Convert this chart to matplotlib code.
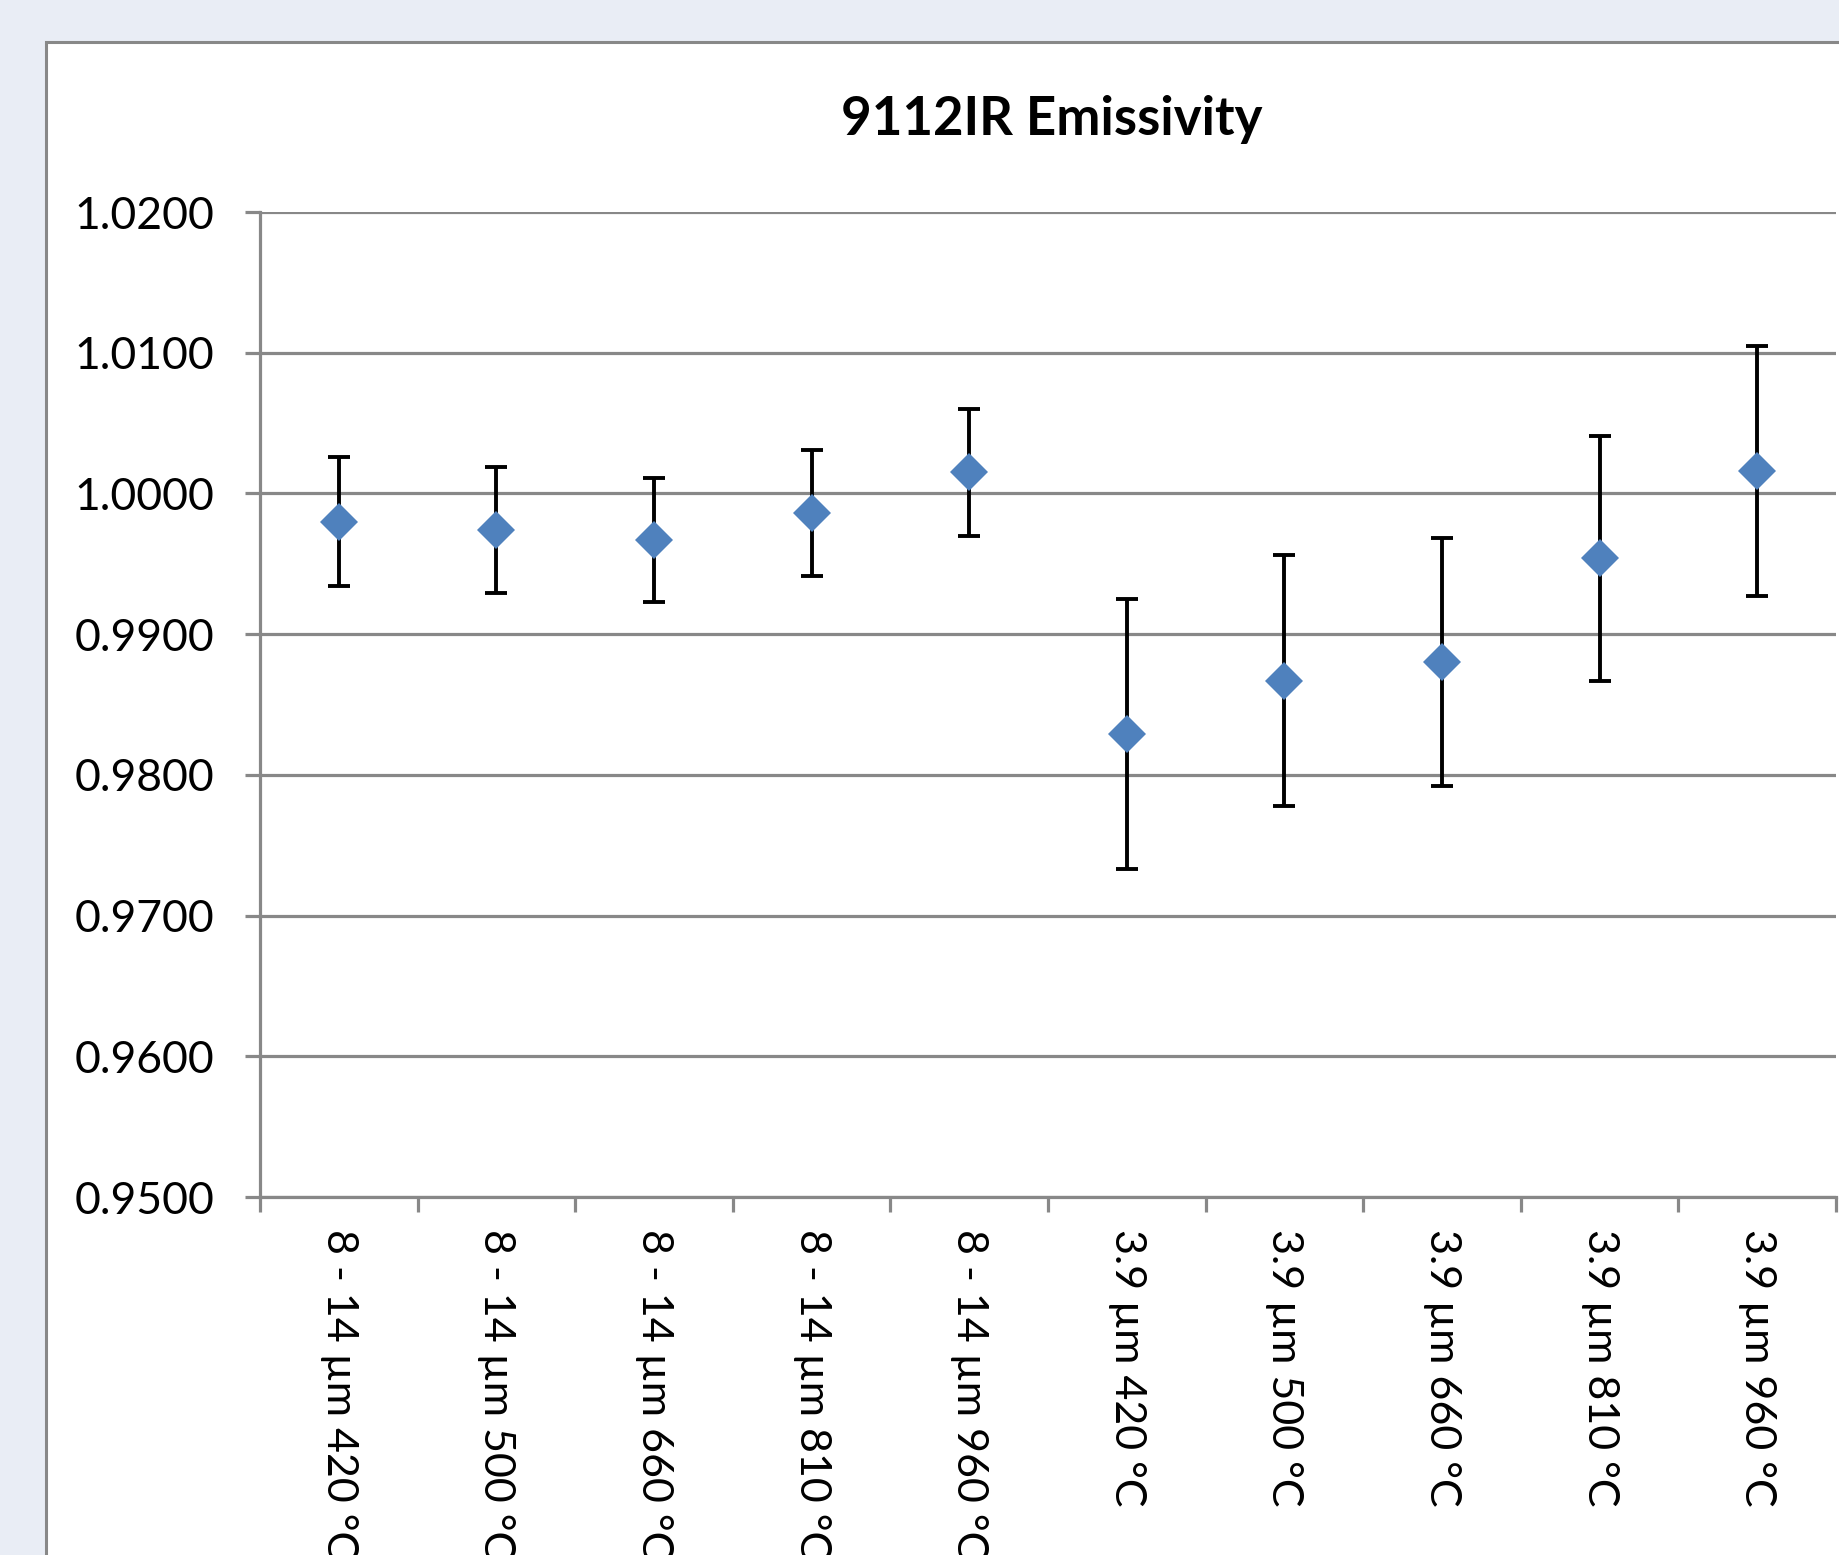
import matplotlib.pyplot as plt
import matplotlib.patches as patches
import numpy as np

plt.rcParams['font.family'] = ['Lato', 'DejaVu Sans']

# DATA
categories = [
    "8 - 14 µm 420 °C", "8 - 14 µm 500 °C", "8 - 14 µm 660 °C",
    "8 - 14 µm 810 °C", "8 - 14 µm 960 °C",
    "3.9 µm 420 °C", "3.9 µm 500 °C", "3.9 µm 660 °C",
    "3.9 µm 810 °C", "3.9 µm 960 °C",
]
emissivity = [0.9980, 0.9974, 0.9967, 0.9986, 1.0015,
              0.9829, 0.9867, 0.9880, 0.9954, 1.0016]
errors = [0.0046, 0.0045, 0.0044, 0.0045, 0.0045,
          0.0096, 0.0089, 0.0088, 0.0087, 0.0089]
y_ticks = [0.95, 0.96, 0.97, 0.98, 0.99, 1.00, 1.01, 1.02]

grey = "#888888"

fig = plt.figure(figsize=(18.39, 15.55), dpi=100)
fig.patch.set_facecolor("#E9EDF5")

# white chart frame (runs off the right and bottom edge)
frame = patches.Rectangle((46 / 1839, -0.1), 1.2, 1.1 - 42 / 1555,
                          transform=fig.transFigure, facecolor="white",
                          edgecolor=grey, linewidth=2.2, zorder=-1)
fig.patches.append(frame)

ax = fig.add_axes([260 / 1839, 1 - 1197 / 1555, (1836 - 260) / 1839, (1197 - 212) / 1555])
ax.set_facecolor("none")

x = np.arange(len(categories))

ax.errorbar(x, emissivity, yerr=errors, fmt="none", ecolor="black",
            elinewidth=2.8, capsize=8, capthick=2.8, zorder=3)
ax.plot(x, emissivity, linestyle="none", marker="D", markersize=19,
        color="#4F81BD", markeredgewidth=0, zorder=4)

ax.set_xlim(-0.5, len(categories) - 0.5)
ax.set_ylim(0.95, 1.02)

ax.set_yticks(y_ticks)
ax.set_yticklabels([f"{v:.4f}" for v in y_ticks])
ax.yaxis.grid(True, color=grey, linewidth=2.3)
ax.set_axisbelow(True)

ax.set_xticks(x)
ax.set_xticklabels(categories, rotation=-90, va="top", ha="center")
ax.set_xticks(np.arange(len(categories) + 1) - 0.5, minor=True)
ax.tick_params(axis="x", which="major", length=0, pad=23, labelsize=31)
ax.tick_params(axis="x", which="minor", length=11, width=2.3, color=grey)
ax.tick_params(axis="y", length=11, width=2.3, color=grey, pad=22, labelsize=32)

for side in ["top", "right"]:
    ax.spines[side].set_visible(False)
for side in ["left", "bottom"]:
    ax.spines[side].set_color(grey)
    ax.spines[side].set_linewidth(2.3)

fig.text(1052 / 1839, 1 - 119 / 1555, "9112IR Emissivity", ha="center", va="center",
         fontsize=38, fontweight="bold")

fig.savefig("out.png", dpi=100, facecolor=fig.get_facecolor())
